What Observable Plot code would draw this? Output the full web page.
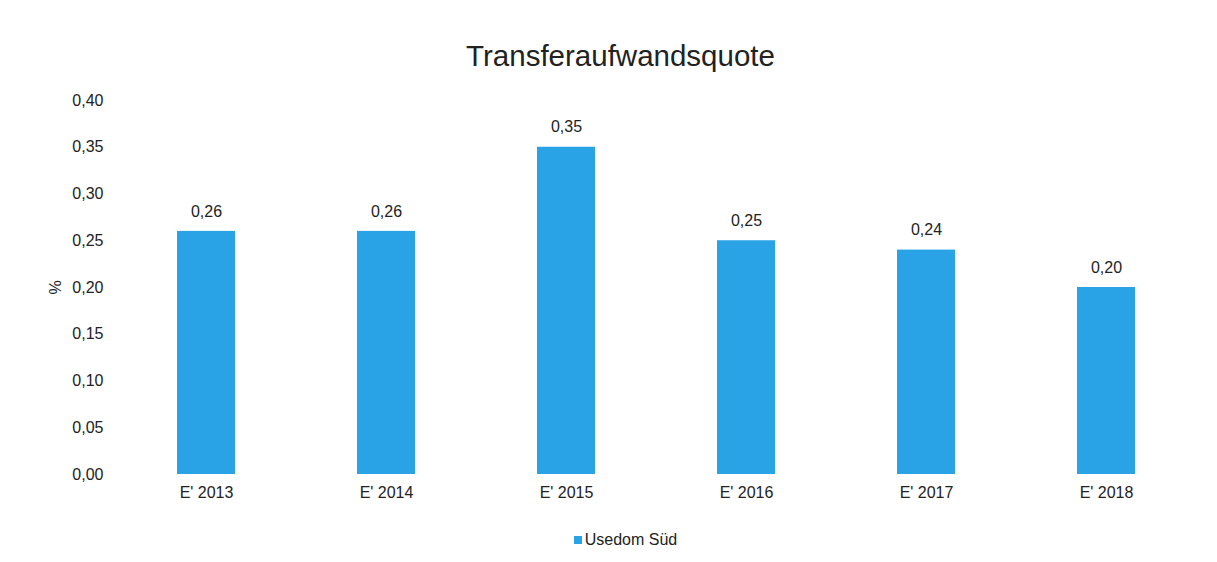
<!DOCTYPE html>
<html><head><meta charset="utf-8">
<script src="https://cdn.jsdelivr.net/npm/d3@7"></script>
<script src="https://cdn.jsdelivr.net/npm/@observablehq/plot@0.6"></script>
<style>
body{margin:0;background:#fff;font-family:"Liberation Sans",Arial,sans-serif;color:#222;}
#title{height:90px;line-height:112px;text-align:center;font-size:29.5px;padding-left:24px;}
#legend{text-align:center;font-size:16px;margin-top:21px;margin-left:34px}
#legend span.sw{display:inline-block;width:8px;height:8px;background:#2aa3e6;margin-right:3px;vertical-align:1px}
</style></head>
<body>
<div id="title">Transferaufwandsquote</div>
<div id="chart"></div>
<div id="legend"><span class="sw"></span>Usedom Süd</div>
<script>
const categories = ["E' 2013","E' 2014","E' 2015","E' 2016","E' 2017","E' 2018"];
const values = [0.26, 0.26, 0.35, 0.25, 0.24, 0.20];
const yTicks = [0,0.05,0.10,0.15,0.20,0.25,0.30,0.35,0.40];
const seriesName = "Usedom Süd";
const data = categories.map((c,i)=>({cat:c, v:values[i]}));
const fmt = d => d.toFixed(2).replace('.', ',');
const chart = Plot.plot({
  width:1217, height:420,
  marginTop:10, marginBottom:36, marginLeft:115, marginRight:20,
  style:{fontFamily:'"Liberation Sans",Arial,sans-serif', fontSize:"16px", color:"#222", background:"#fff"},
  x:{domain:categories, paddingInner:0.68, paddingOuter:0.34, label:null, tickSize:0, tickPadding:12},
  y:{domain:[0,0.4], ticks:yTicks, tickFormat:fmt, tickSize:0, tickPadding:12, label:"%", labelAnchor:"center", labelArrow:"none", labelOffset:66},
  marks:[
    Plot.barY(data,{x:"cat", y:"v", fill:"#2aa3e6"}),
    Plot.text(data,{x:"cat", y:"v", text:d=>fmt(d.v), dy:-20, fontSize:16, fill:"#222"})
  ]
});
document.getElementById("chart").appendChild(chart);
</script>
</body></html>
